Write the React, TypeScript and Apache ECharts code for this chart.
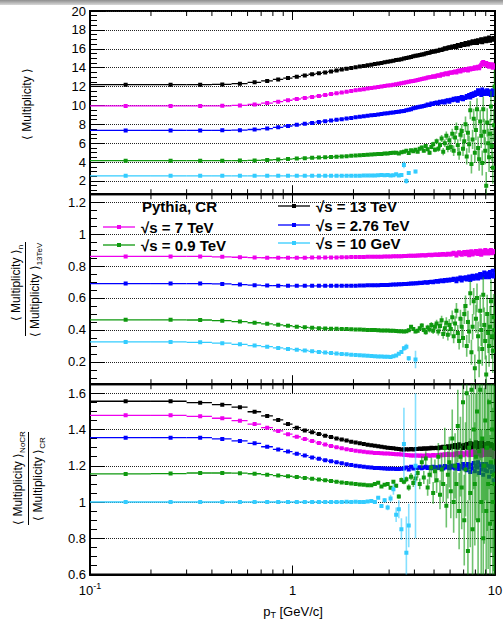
import React, { useEffect, useRef } from 'react';
import * as echarts from 'echarts';

const FONT = '"Liberation Sans", Arial, Helvetica, sans-serif';

// bin centres (GeV/c), bins of width 0.1 from 0.1 to 10
const pT = [
  0.15, 0.25, 0.35, 0.45, 0.55, 0.65, 0.75, 0.85, 0.95, 1.05,
  1.15, 1.25, 1.35, 1.45, 1.55, 1.65, 1.75, 1.85, 1.95, 2.05,
  2.15, 2.25, 2.35, 2.45, 2.55, 2.65, 2.75, 2.85, 2.95, 3.05,
  3.15, 3.25, 3.35, 3.45, 3.55, 3.65, 3.75, 3.85, 3.95, 4.05,
  4.15, 4.25, 4.35, 4.45, 4.55, 4.65, 4.75, 4.85, 4.95, 5.05,
  5.15, 5.25, 5.35, 5.45, 5.55, 5.65, 5.75, 5.85, 5.95, 6.05,
  6.15, 6.25, 6.35, 6.45, 6.55, 6.65, 6.75, 6.85, 6.95, 7.05,
  7.15, 7.25, 7.35, 7.45, 7.55, 7.65, 7.75, 7.85, 7.95, 8.05,
  8.15, 8.25, 8.35, 8.45, 8.55, 8.65, 8.75, 8.85, 8.95, 9.05,
  9.15, 9.25, 9.35, 9.45, 9.55, 9.65, 9.75, 9.85, 9.95,
];
const binHalfWidth = 0.05;

const xMajorTicks = [1];
const xMinorTicks = [0.2, 0.3, 0.4, 0.5, 0.6, 0.7, 0.8, 0.9, 2, 3, 4, 5, 6, 7, 8, 9];
const xAxisLabels = ['10^-1', '1', '10'];

const seriesNames = ['√s = 13 TeV', '√s = 7 TeV', '√s = 2.76 TeV', '√s = 0.9 TeV', '√s = 10 GeV'];
const seriesColors = ['#000000', '#ee00ee', '#0000ff', '#0f990f', '#33ccff'];

// ---------- panel 1 : <Multiplicity> (CR) ----------
const mult13 = [
  12.2, 12.2, 12.2, 12.22, 12.3, 12.45, 12.6, 12.75, 12.9, 13.05,
  13.18, 13.3, 13.4, 13.5, 13.6, 13.7, 13.8, 13.88, 13.96, 14.05,
  14.12, 14.18, 14.25, 14.3, 14.38, 14.45, 14.5, 14.56, 14.62, 14.68,
  14.74, 14.8, 14.85, 14.9, 14.98, 15.02, 15.08, 15.12, 15.2, 15.25,
  15.3, 15.35, 15.4, 15.42, 15.5, 15.55, 15.58, 15.65, 15.7, 15.72,
  15.8, 15.78, 15.9, 15.88, 15.95, 16.05, 16.0, 16.1, 16.15, 16.1,
  16.25, 16.2, 16.3, 16.15, 16.4, 16.35, 16.3, 16.5, 16.45, 16.4,
  16.6, 16.5, 16.45, 16.7, 16.55, 16.65, 16.8, 16.6, 16.7, 16.85,
  16.6, 16.9, 16.75, 16.8, 17.0, 16.7, 16.95, 16.85, 17.1, 16.8,
  17.05, 16.9, 17.2, 16.85, 17.0, 17.1, 16.95, 17.15, 17.0,
];
const mult7 = [
  9.95, 9.95, 9.95, 9.96, 10.0, 10.1, 10.25, 10.4, 10.55, 10.68,
  10.8, 10.9, 11.0, 11.1, 11.2, 11.28, 11.36, 11.44, 11.52, 11.6,
  11.66, 11.72, 11.78, 11.84, 11.9, 11.95, 12.0, 12.06, 12.1, 12.15,
  12.2, 12.25, 12.3, 12.36, 12.4, 12.45, 12.5, 12.55, 12.6, 12.65,
  12.7, 12.75, 12.8, 12.85, 12.88, 12.95, 12.98, 13.0, 13.1, 13.05,
  13.15, 13.2, 13.15, 13.3, 13.25, 13.35, 13.4, 13.3, 13.45, 13.5,
  13.45, 13.55, 13.6, 13.5, 13.65, 13.7, 13.6, 13.75, 13.7, 13.8,
  13.75, 13.85, 13.7, 13.9, 13.8, 13.95, 13.85, 13.9, 14.05, 13.9,
  14.0, 14.1, 13.95, 14.15, 14.3, 14.5, 14.6, 14.4, 14.3, 14.5,
  14.2, 14.4, 14.1, 14.3, 14.2, 14.35, 14.0, 14.25, 14.1,
];
const mult276 = [
  7.35, 7.35, 7.35, 7.36, 7.38, 7.45, 7.55, 7.68, 7.82, 7.95,
  8.05, 8.15, 8.25, 8.33, 8.4, 8.48, 8.55, 8.62, 8.68, 8.75,
  8.8, 8.85, 8.9, 8.95, 9.0, 9.05, 9.1, 9.14, 9.18, 9.22,
  9.26, 9.3, 9.34, 9.38, 9.42, 9.48, 9.55, 9.6, 9.7, 9.75,
  9.8, 9.85, 9.9, 9.95, 10.0, 10.1, 10.05, 10.2, 10.15, 10.25,
  10.3, 10.2, 10.4, 10.35, 10.45, 10.3, 10.5, 10.55, 10.4, 10.6,
  10.55, 10.7, 10.6, 10.75, 10.5, 10.8, 10.7, 10.9, 10.65, 10.85,
  10.8, 11.0, 10.9, 11.1, 10.85, 11.2, 11.0, 11.3, 11.1, 11.4,
  11.2, 11.6, 11.3, 11.5, 11.1, 11.7, 11.4, 11.2, 11.5, 11.3,
  11.6, 11.2, 11.4, 11.5, 11.1, 11.3, 11.6, 11.2, 11.4,
];
const mult09 = [
  4.15, 4.15, 4.15, 4.15, 4.16, 4.18, 4.22, 4.27, 4.32, 4.37,
  4.41, 4.45, 4.48, 4.51, 4.54, 4.57, 4.6, 4.63, 4.66, 4.69,
  4.72, 4.75, 4.77, 4.8, 4.82, 4.85, 4.87, 4.9, 4.92, 4.95,
  4.98, 5.0, 4.9, 5.05, 5.1, 5.2, 4.95, 5.25, 5.15, 5.3,
  5.1, 5.4, 5.55, 5.2, 5.7, 5.35, 5.0, 5.6, 5.9, 5.3,
  6.2, 5.4, 5.8, 6.5, 5.1, 6.0, 6.8, 5.5, 6.3, 5.6,
  7.0, 5.2, 6.6, 7.6, 5.8, 4.9, 6.9, 7.3, 5.4, 6.2,
  8.0, 4.6, 7.1, 5.9, 9.5, 3.8, 6.4, 8.6, 5.0, 7.4,
  9.6, 5.5, 4.3, 8.3, 6.8, 3.9, 9.6, 7.2, 5.2, 1.5,
  8.2, 6.0, 4.5, 7.0, 9.9, 5.7, 3.4, 7.9, 12.0,
];
const mult09Err = [
  0, 0, 0, 0, 0, 0, 0, 0, 0, 0,
  0, 0, 0, 0, 0, 0, 0, 0, 0, 0,
  0.02, 0.02, 0.03, 0.03, 0.03, 0.04, 0.04, 0.05, 0.05, 0.06,
  0.06, 0.07, 0.08, 0.08, 0.09, 0.1, 0.1, 0.12, 0.12, 0.13,
  0.14, 0.15, 0.17, 0.18, 0.2, 0.21, 0.22, 0.25, 0.26, 0.27,
  0.3, 0.31, 0.33, 0.36, 0.38, 0.4, 0.43, 0.45, 0.48, 0.5,
  0.52, 0.56, 0.58, 0.6, 0.63, 0.65, 0.7, 0.72, 0.76, 0.8,
  0.82, 0.86, 0.9, 0.92, 0.96, 1.0, 1.02, 1.05, 1.1, 1.1,
  1.15, 1.2, 1.22, 1.25, 1.3, 1.32, 1.35, 1.4, 1.42, 1.45,
  1.5, 1.52, 1.55, 1.6, 1.62, 1.65, 1.7, 1.72, 1.75,
];
const mult10 = [
  2.55, 2.55, 2.55, 2.55, 2.55, 2.55, 2.55, 2.55, 2.55, 2.55,
  2.55, 2.55, 2.55, 2.55, 2.55, 2.55, 2.56, 2.56, 2.56, 2.56,
  2.56, 2.57, 2.57, 2.58, 2.58, 2.6, 2.62, 2.6, 2.63, 2.58,
  2.6, 2.72, 2.58, 2.62, 3.7, 2.0, 2.85, null, null, 3.0,
];
const mult10Err = [
  0, 0, 0, 0, 0, 0, 0, 0, 0, 0,
  0, 0, 0, 0, 0, 0, 0, 0, 0, 0,
  0, 0, 0, 0, 0.01, 0.01, 0.01, 0.02, 0.02, 0.03,
  0.03, 0.04, 0.05, 0.06, 0.35, 0.3, 0.2, 0, 0, 0.2,
];

// ---------- panel 2 : <Multiplicity>_n / <Multiplicity>_13TeV ----------
const ratio7 = [
  0.86, 0.86, 0.86, 0.858, 0.855, 0.853, 0.852, 0.852, 0.852, 0.852,
  0.852, 0.853, 0.853, 0.853, 0.854, 0.854, 0.855, 0.855, 0.856, 0.856,
  0.857, 0.857, 0.858, 0.858, 0.858, 0.859, 0.859, 0.86, 0.86, 0.86,
  0.861, 0.861, 0.862, 0.862, 0.863, 0.863, 0.864, 0.864, 0.865, 0.865,
  0.866, 0.866, 0.867, 0.868, 0.866, 0.869, 0.87, 0.868, 0.871, 0.87,
  0.872, 0.869, 0.874, 0.871, 0.876, 0.873, 0.87, 0.877, 0.874, 0.872,
  0.878, 0.884, 0.875, 0.866, 0.88, 0.886, 0.876, 0.87, 0.882, 0.888,
  0.874, 0.879, 0.89, 0.868, 0.884, 0.892, 0.872, 0.886, 0.878, 0.894,
  0.882, 0.876, 0.89, 0.898, 0.87, 0.886, 0.893, 0.879, 0.9, 0.884,
  0.89, 0.878, 0.896, 0.885, 0.9, 0.88, 0.893, 0.887, 0.895,
];
const ratio276 = [
  0.69, 0.69, 0.69, 0.688, 0.684, 0.68, 0.678, 0.677, 0.676, 0.676,
  0.676, 0.676, 0.676, 0.676, 0.676, 0.676, 0.677, 0.677, 0.677, 0.677,
  0.678, 0.678, 0.679, 0.679, 0.68, 0.68, 0.681, 0.682, 0.682, 0.683,
  0.684, 0.685, 0.686, 0.686, 0.687, 0.688, 0.689, 0.69, 0.69, 0.692,
  0.693, 0.695, 0.694, 0.697, 0.698, 0.696, 0.7, 0.702, 0.699, 0.704,
  0.706, 0.702, 0.708, 0.71, 0.705, 0.712, 0.708, 0.714, 0.71, 0.716,
  0.712, 0.72, 0.715, 0.705, 0.722, 0.718, 0.728, 0.71, 0.725, 0.72,
  0.73, 0.716, 0.724, 0.735, 0.712, 0.73, 0.74, 0.72, 0.736, 0.726,
  0.742, 0.722, 0.738, 0.75, 0.728, 0.745, 0.735, 0.76, 0.73, 0.748,
  0.74, 0.755, 0.73, 0.762, 0.745, 0.738, 0.77, 0.735, 0.75,
];
const ratio09 = [
  0.463, 0.463, 0.462, 0.458, 0.452, 0.445, 0.438, 0.432, 0.426, 0.42,
  0.416, 0.413, 0.411, 0.409, 0.408, 0.407, 0.406, 0.405, 0.404, 0.403,
  0.402, 0.401, 0.4, 0.4, 0.399, 0.398, 0.397, 0.396, 0.396, 0.395,
  0.394, 0.393, 0.392, 0.391, 0.39, 0.392, 0.398, 0.42, 0.405, 0.39,
  0.395, 0.41, 0.428, 0.4, 0.385, 0.415, 0.402, 0.43, 0.395, 0.42,
  0.44, 0.39, 0.425, 0.46, 0.375, 0.41, 0.445, 0.37, 0.43, 0.405,
  0.48, 0.36, 0.44, 0.52, 0.38, 0.33, 0.47, 0.42, 0.35, 0.5,
  0.55, 0.3, 0.45, 0.39, 0.63, 0.26, 0.42, 0.58, 0.16, 0.47,
  0.6, 0.36, 0.2, 0.52, 0.4, 0.28, 0.62, 0.43, 0.33, 0.12,
  0.5, 0.38, 0.3, 0.42, 0.58, 0.36, 0.27, 0.48, 0.4,
];
const ratio09Err = [
  0, 0, 0, 0, 0, 0, 0, 0, 0, 0,
  0, 0, 0, 0, 0, 0, 0, 0, 0, 0,
  0.002, 0.002, 0.003, 0.003, 0.003, 0.003, 0.004, 0.004, 0.005, 0.005,
  0.005, 0.006, 0.006, 0.007, 0.007, 0.008, 0.009, 0.01, 0.01, 0.011,
  0.012, 0.013, 0.014, 0.015, 0.016, 0.017, 0.018, 0.02, 0.021, 0.022,
  0.024, 0.025, 0.027, 0.028, 0.03, 0.032, 0.034, 0.036, 0.038, 0.04,
  0.042, 0.044, 0.046, 0.048, 0.05, 0.053, 0.056, 0.058, 0.06, 0.063,
  0.066, 0.068, 0.07, 0.073, 0.076, 0.078, 0.08, 0.083, 0.086, 0.088,
  0.09, 0.093, 0.096, 0.1, 0.1, 0.105, 0.11, 0.11, 0.115, 0.12,
  0.12, 0.125, 0.13, 0.13, 0.135, 0.14, 0.14, 0.145, 0.15,
];
const ratio10 = [
  0.325, 0.325, 0.322, 0.317, 0.31, 0.302, 0.295, 0.287, 0.281, 0.276,
  0.271, 0.266, 0.262, 0.258, 0.255, 0.252, 0.249, 0.247, 0.245, 0.243,
  0.241, 0.239, 0.238, 0.236, 0.235, 0.234, 0.233, 0.232, 0.232, 0.231,
  0.235, 0.24, 0.25, 0.262, 0.285, 0.294, 0.222, null, null, 0.215,
];
const ratio10Err = [
  0, 0, 0, 0, 0, 0, 0, 0, 0, 0,
  0, 0, 0, 0, 0, 0, 0, 0, 0, 0,
  0.001, 0.001, 0.001, 0.001, 0.002, 0.002, 0.002, 0.003, 0.003, 0.003,
  0.004, 0.005, 0.006, 0.008, 0.015, 0.02, 0.015, 0, 0, 0.055,
];

// ---------- panel 3 : <Multiplicity>_NoCR / <Multiplicity>_CR ----------
const nocr13 = [
  1.556, 1.556, 1.548, 1.537, 1.523, 1.498, 1.475, 1.453, 1.43, 1.41,
  1.395, 1.385, 1.375, 1.366, 1.358, 1.351, 1.345, 1.339, 1.333, 1.328,
  1.324, 1.32, 1.316, 1.313, 1.31, 1.307, 1.305, 1.302, 1.3, 1.298,
  1.296, 1.294, 1.292, 1.29, 1.29, 1.291, 1.29, 1.292, 1.29, 1.293,
  1.292, 1.295, 1.293, 1.296, 1.294, 1.297, 1.295, 1.3, 1.296, 1.298,
  1.3, 1.296, 1.302, 1.299, 1.305, 1.3, 1.303, 1.308, 1.298, 1.306,
  1.31, 1.302, 1.315, 1.305, 1.3, 1.318, 1.307, 1.312, 1.298, 1.315,
  1.305, 1.32, 1.3, 1.315, 1.325, 1.298, 1.31, 1.322, 1.305, 1.33,
  1.31, 1.295, 1.325, 1.315, 1.3, 1.33, 1.305, 1.32, 1.29, 1.318,
  1.3, 1.325, 1.31, 1.29, 1.32, 1.305, 1.315, 1.295, 1.31,
];
const nocr7 = [
  1.478, 1.478, 1.473, 1.462, 1.449, 1.43, 1.41, 1.392, 1.374, 1.36,
  1.347, 1.336, 1.326, 1.317, 1.309, 1.302, 1.296, 1.291, 1.287, 1.283,
  1.28, 1.277, 1.275, 1.273, 1.271, 1.27, 1.269, 1.268, 1.267, 1.266,
  1.265, 1.264, 1.263, 1.262, 1.261, 1.26, 1.258, 1.257, 1.257, 1.256,
  1.256, 1.255, 1.257, 1.254, 1.256, 1.258, 1.255, 1.257, 1.259, 1.256,
  1.258, 1.26, 1.256, 1.262, 1.258, 1.263, 1.259, 1.265, 1.26, 1.262,
  1.264, 1.258, 1.268, 1.262, 1.27, 1.26, 1.266, 1.272, 1.258, 1.268,
  1.262, 1.275, 1.265, 1.258, 1.278, 1.268, 1.26, 1.28, 1.265, 1.27,
  1.275, 1.262, 1.282, 1.268, 1.255, 1.285, 1.27, 1.26, 1.278, 1.265,
  1.28, 1.26, 1.272, 1.285, 1.262, 1.275, 1.268, 1.25, 1.27,
];
const nocr276 = [
  1.355, 1.355, 1.355, 1.348, 1.337, 1.324, 1.305, 1.29, 1.278, 1.266,
  1.256, 1.246, 1.238, 1.231, 1.225, 1.219, 1.214, 1.209, 1.204, 1.2,
  1.197, 1.194, 1.192, 1.19, 1.188, 1.187, 1.186, 1.185, 1.184, 1.183,
  1.183, 1.182, 1.182, 1.183, 1.185, 1.19, 1.18, 1.195, 1.185, 1.19,
  1.188, 1.192, 1.186, 1.19, 1.195, 1.188, 1.192, 1.186, 1.194, 1.19,
  1.192, 1.188, 1.196, 1.19, 1.185, 1.198, 1.19, 1.194, 1.186, 1.2,
  1.19, 1.2, 1.185, 1.195, 1.205, 1.182, 1.198, 1.19, 1.21, 1.185,
  1.2, 1.175, 1.21, 1.19, 1.165, 1.205, 1.185, 1.215, 1.17, 1.2,
  1.19, 1.22, 1.16, 1.2, 1.18, 1.21, 1.15, 1.195, 1.175, 1.21,
  1.17, 1.2, 1.14, 1.19, 1.21, 1.165, 1.195, 1.12, 1.18,
];
const nocr09 = [
  1.155, 1.157, 1.16, 1.16, 1.159, 1.156, 1.151, 1.146, 1.142, 1.138,
  1.133, 1.128, 1.124, 1.12, 1.116, 1.112, 1.108, 1.105, 1.102, 1.099,
  1.097, 1.095, 1.093, 1.092, 1.1, 1.106, 1.085, 1.095, 1.1, 1.078,
  1.112, 1.09, 1.03, 1.122, 1.112, 1.125, 1.08, 1.14, 1.105, 1.13,
  1.16, 1.1, 1.22, 1.135, 1.24, 1.08, 1.15, 1.19, 1.05, 1.17,
  1.12, 1.25, 1.04, 1.18, 1.1, 1.3, 0.98, 1.15, 1.22, 1.06,
  1.35, 1.0, 1.2, 1.1, 1.42, 0.95, 1.25, 1.08, 1.55, 0.9,
  1.18, 1.6, 0.73, 1.3, 1.05, 1.62, 0.85, 1.4, 1.1, 1.25,
  1.5, 0.9, 1.28, 1.62, 1.0, 1.35, 0.8, 1.2, 1.45, 0.95,
  1.3, 1.1, 1.55, 0.88, 1.22, 1.4, 1.0, 1.15, 1.1,
];
const nocr09Err = [
  0, 0, 0, 0, 0, 0, 0, 0, 0, 0,
  0, 0, 0, 0, 0, 0, 0, 0, 0, 0,
  0.004, 0.004, 0.005, 0.005, 0.006, 0.006, 0.007, 0.007, 0.008, 0.009,
  0.01, 0.011, 0.012, 0.013, 0.014, 0.016, 0.018, 0.02, 0.022, 0.024,
  0.026, 0.03, 0.033, 0.036, 0.04, 0.045, 0.05, 0.055, 0.06, 0.065,
  0.07, 0.075, 0.08, 0.09, 0.1, 0.11, 0.12, 0.13, 0.14, 0.15,
  0.16, 0.17, 0.18, 0.19, 0.2, 0.21, 0.22, 0.23, 0.24, 0.25,
  0.26, 0.27, 0.28, 0.29, 0.3, 0.31, 0.32, 0.33, 0.34, 0.35,
  0.36, 0.37, 0.38, 0.39, 0.4, 0.41, 0.42, 0.43, 0.44, 0.45,
  0.46, 0.47, 0.48, 0.49, 0.5, 0.51, 0.52, 0.53, 0.54,
];
const nocr10 = [
  1.0, 1.0, 1.0, 1.0, 1.0, 1.0, 1.0, 1.0, 1.0, 1.0,
  1.0, 1.0, 1.0, 1.0, 1.0, 1.0, 1.0, 1.002, 1.0, 1.002,
  1.0, 1.0, 1.003, 1.005, 1.0, 1.024, 0.978, 1.01, 0.97, 1.02,
  1.07, 0.93, 0.96, 0.85, 1.32, 0.72, 0.87, null, null, 1.2,
];
const nocr10Err = [
  0, 0, 0, 0, 0, 0, 0, 0, 0, 0,
  0, 0, 0, 0, 0, 0, 0, 0, 0, 0,
  0.003, 0.003, 0.004, 0.005, 0.006, 0.008, 0.01, 0.012, 0.015, 0.02,
  0.03, 0.04, 0.05, 0.06, 0.2, 0.2, 0.12, 0, 0, 0.4,
];

type Panel = {
  top: number; height: number; min: number; max: number; step: number;
  sets: { idx: number; values: (number | null)[]; errs?: number[] }[];
};

const panels: Panel[] = [
  {
    top: 11, height: 183.2, min: 0.6, max: 20, step: 2,
    sets: [
      { idx: 0, values: mult13 },
      { idx: 1, values: mult7 },
      { idx: 2, values: mult276 },
      { idx: 3, values: mult09, errs: mult09Err },
      { idx: 4, values: mult10, errs: mult10Err },
    ],
  },
  {
    top: 194.2, height: 190, min: 0.06, max: 1.25, step: 0.2,
    sets: [
      { idx: 1, values: ratio7 },
      { idx: 2, values: ratio276 },
      { idx: 3, values: ratio09, errs: ratio09Err },
      { idx: 4, values: ratio10, errs: ratio10Err },
    ],
  },
  {
    top: 384.2, height: 190.3, min: 0.6, max: 1.65, step: 0.2,
    sets: [
      { idx: 0, values: nocr13 },
      { idx: 1, values: nocr7 },
      { idx: 2, values: nocr276 },
      { idx: 3, values: nocr09, errs: nocr09Err },
      { idx: 4, values: nocr10, errs: nocr10Err },
    ],
  },
];

function isMultiple(v: number, step: number) {
  const r = v / step;
  return Math.abs(r - Math.round(r)) < 1e-6;
}

function buildOption() {
  const grid: any[] = [];
  const xAxis: any[] = [];
  const yAxis: any[] = [];
  const series: any[] = [];

  panels.forEach((p, i) => {
    grid.push({
      left: 90, width: 405, top: p.top, height: p.height,
      show: true, borderColor: '#000', borderWidth: 2, backgroundColor: 'transparent',
      containLabel: false, outerBoundsMode: 'none',
    });
    const last = i === panels.length - 1;
    xAxis.push({
      type: 'log', logBase: 10, gridIndex: i, min: 0.1, max: 10,
      axisLine: { show: true, lineStyle: { color: '#000', width: 2 } },
      axisTick: { show: false },
      minorTick: { show: false },
      splitLine: { show: false },
      axisLabel: {
        show: last, margin: 7, color: '#000', fontFamily: FONT, fontSize: 13,
        formatter: (v: number) => {
          if (Math.abs(v - 0.1) < 1e-6) return '{b|10}{s|-1}';
          if (Math.abs(v - 1) < 1e-6) return '{b|1}';
          if (Math.abs(v - 10) < 1e-6) return '{b|10}';
          return '';
        },
        rich: {
          b: { fontSize: 13, fontFamily: FONT, color: '#000', lineHeight: 17 },
          s: { fontSize: 9, fontFamily: FONT, color: '#000', lineHeight: 10, verticalAlign: 'top' },
        },
      },
    });
    const common = {
      type: 'value', gridIndex: i, min: p.min, max: p.max,
      minInterval: p.step, maxInterval: p.step, splitNumber: 6,
    };
    yAxis.push({
      ...common,
      position: 'left',
      axisLine: { show: true, lineStyle: { color: '#000', width: 2 } },
      axisTick: { show: true, inside: true, length: 15, lineStyle: { color: '#000', width: 1 } },
      minorTick: { show: true, splitNumber: 4, length: 7, lineStyle: { color: '#000', width: 1 } },
      splitLine: { show: true, lineStyle: { color: '#222', width: 1, type: 'dotted' } },
      axisLabel: {
        show: true, margin: 4, color: '#000', fontFamily: FONT, fontSize: 13,
        formatter: (v: number) => (isMultiple(v, p.step) ? String(parseFloat(v.toFixed(2))) : ''),
      },
    });
    yAxis.push({
      ...common,
      position: 'right',
      axisLine: { show: true, lineStyle: { color: '#000', width: 2 } },
      axisTick: { show: true, inside: true, length: 9, lineStyle: { color: '#000', width: 1 } },
      minorTick: { show: true, splitNumber: 4, length: 5, lineStyle: { color: '#000', width: 1 } },
      splitLine: { show: false },
      axisLabel: { show: false },
    });

    // log-axis ticks (major at decades, minor at 2..9) on bottom and top edges
    const tickData = [
      ...xMinorTicks.map((v) => [v, p.min, 0]),
      ...xMajorTicks.map((v) => [v, p.min, 1]),
    ];
    series.push({
      type: 'custom', xAxisIndex: i, yAxisIndex: 2 * i, silent: true, clip: false,
      encode: { x: 0, y: 1 }, data: tickData, z: 5,
      renderItem: (params: any, api: any) => {
        const v = api.value(0);
        const major = api.value(2) === 1;
        const cs = params.coordSys;
        const px = api.coord([v, p.min])[0];
        const len = major ? 9 : 5;
        const bottom = cs.y + cs.height;
        return {
          type: 'group',
          children: [
            { type: 'line', shape: { x1: px, y1: bottom, x2: px, y2: bottom - len }, style: { stroke: '#000', lineWidth: 1 } },
            { type: 'line', shape: { x1: px, y1: cs.y, x2: px, y2: cs.y + len }, style: { stroke: '#000', lineWidth: 1 } },
          ],
        };
      },
    });

    p.sets.forEach((s) => {
      const color = seriesColors[s.idx];
      const data: number[][] = [];
      s.values.forEach((v, k) => {
        if (v == null) return;
        data.push([pT[k], v, s.errs ? s.errs[k] || 0 : 0]);
      });
      series.push({
        type: 'custom', name: seriesNames[s.idx], xAxisIndex: i, yAxisIndex: 2 * i,
        silent: true, clip: true, encode: { x: 0, y: 1 }, data, z: 3,
        renderItem: (params: any, api: any) => {
          const x = api.value(0);
          const y = api.value(1);
          const e = api.value(2);
          const c = api.coord([x, y]);
          const l = api.coord([x - binHalfWidth, y]);
          const r = api.coord([x + binHalfWidth, y]);
          const children: any[] = [
            { type: 'line', shape: { x1: l[0], y1: c[1], x2: r[0], y2: c[1] }, style: { stroke: color, lineWidth: 1.3 } },
          ];
          if (e > 0) {
            const t = api.coord([x, y + e]);
            const b = api.coord([x, y - e]);
            children.push({ type: 'line', shape: { x1: c[0], y1: t[1], x2: c[0], y2: b[1] }, style: { stroke: color, lineWidth: 1.6, opacity: 0.6 } });
          }
          children.push({ type: 'rect', shape: { x: c[0] - 2, y: c[1] - 2, width: 4, height: 4 }, style: { fill: color } });
          return { type: 'group', children };
        },
      });
    });
  });

  const titleRich = {
    m: { fontSize: 12, fontFamily: FONT, fill: '#000', lineHeight: 16 },
    s: { fontSize: 8, fontFamily: FONT, fill: '#000', lineHeight: 9, verticalAlign: 'bottom' },
  };
  const legendFont = { fontSize: 15, fontWeight: 'bold', fontFamily: FONT, fill: '#000' };
  const legendEntries = [
    { idx: 1, lx: 103, ty: 227 },
    { idx: 3, lx: 103, ty: 245 },
    { idx: 0, lx: 278, ty: 206 },
    { idx: 2, lx: 278, ty: 225 },
    { idx: 4, lx: 278, ty: 243 },
  ];
  const graphic: any[] = [
    // y-axis titles
    {
      type: 'text', x: 27, y: 104, rotation: Math.PI / 2, silent: true,
      style: { text: '{m|⟨ Multiplicity ⟩}', rich: titleRich, align: 'center', verticalAlign: 'middle' },
    },
    {
      type: 'text', x: 16, y: 283, rotation: Math.PI / 2, silent: true,
      style: { text: '{m|⟨ Multiplicity ⟩}{s|n}', rich: titleRich, align: 'center', verticalAlign: 'middle' },
    },
    { type: 'line', silent: true, shape: { x1: 25.5, y1: 242, x2: 25.5, y2: 336 }, style: { stroke: '#000', lineWidth: 1 } },
    {
      type: 'text', x: 35, y: 290, rotation: Math.PI / 2, silent: true,
      style: { text: '{m|⟨ Multiplicity ⟩}{s|13TeV}', rich: titleRich, align: 'center', verticalAlign: 'middle' },
    },
    {
      type: 'text', x: 18, y: 478, rotation: Math.PI / 2, silent: true,
      style: { text: '{m|⟨ Multiplicity ⟩}{s|NoCR}', rich: titleRich, align: 'center', verticalAlign: 'middle' },
    },
    { type: 'line', silent: true, shape: { x1: 28.5, y1: 432, x2: 28.5, y2: 525 }, style: { stroke: '#000', lineWidth: 1 } },
    {
      type: 'text', x: 38, y: 479, rotation: Math.PI / 2, silent: true,
      style: { text: '{m|⟨ Multiplicity ⟩}{s|CR}', rich: titleRich, align: 'center', verticalAlign: 'middle' },
    },
    // x-axis title
    {
      type: 'text', x: 293, y: 611, silent: true,
      style: {
        text: '{m|p}{s|T}{m| [GeV/c]}',
        rich: {
          m: { fontSize: 13, fontFamily: FONT, fill: '#000', lineHeight: 17 },
          s: { fontSize: 9, fontFamily: FONT, fill: '#000', lineHeight: 10, verticalAlign: 'bottom' },
        },
        align: 'center', verticalAlign: 'middle',
      },
    },
    // legend header
    {
      type: 'text', x: 142, y: 206, silent: true,
      style: { text: 'Pythia, CR', ...legendFont, align: 'left', verticalAlign: 'middle' },
    },
  ];
  legendEntries.forEach((e) => {
    const color = seriesColors[e.idx];
    graphic.push({ type: 'line', silent: true, shape: { x1: e.lx, y1: e.ty, x2: e.lx + 32, y2: e.ty }, style: { stroke: color, lineWidth: 1.3 } });
    graphic.push({ type: 'rect', silent: true, shape: { x: e.lx + 14, y: e.ty - 2, width: 4, height: 4 }, style: { fill: color } });
    graphic.push({
      type: 'text', x: e.lx + 38, y: e.ty, silent: true,
      style: { text: seriesNames[e.idx], ...legendFont, align: 'left', verticalAlign: 'middle' },
    });
  });

  return {
    animation: false,
    backgroundColor: 'transparent',
    grid, xAxis, yAxis, series, graphic,
  };
}

export default function App() {
  const ref = useRef<HTMLDivElement>(null);
  useEffect(() => {
    if (!ref.current) return;
    const chart = echarts.init(ref.current, null, { renderer: 'svg' });
    chart.setOption(buildOption() as any);
    return () => chart.dispose();
  }, []);
  return (
    <div style={{ position: 'fixed', left: 0, top: 0, width: 503, height: 621, background: '#fff' }}>
      <div
        style={{
          position: 'absolute', left: 0, top: 0, width: 503, height: 5,
          background: 'linear-gradient(to bottom, #8e8e8e, #d8d8d8)',
        }}
      />
      <div ref={ref} style={{ position: 'absolute', left: 0, top: 0, width: 503, height: 621 }} />
    </div>
  );
}
